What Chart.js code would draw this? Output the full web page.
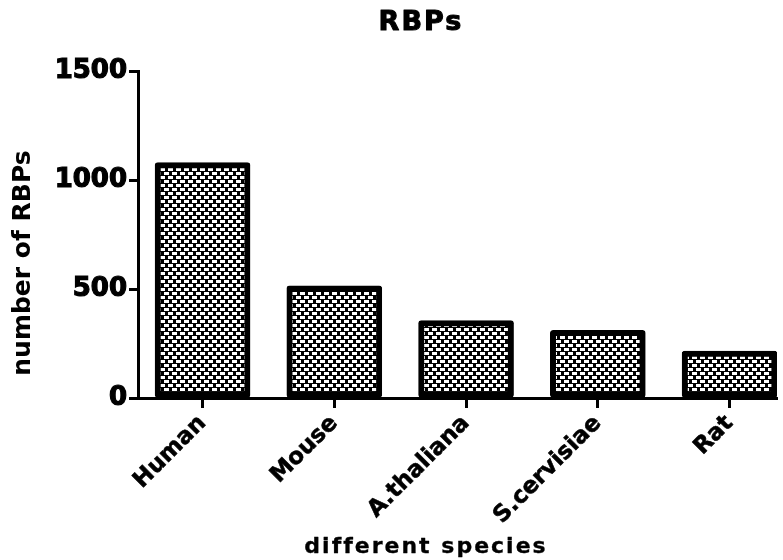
<!DOCTYPE html>
<html>
<head>
<meta charset="utf-8">
<title>RBPs</title>
<script src="https://cdn.jsdelivr.net/npm/chart.js@4.4.1/dist/chart.umd.min.js"></script>
<style>
  html, body { margin: 0; padding: 0; background: #fff; }
  canvas { display: block; }
</style>
</head>
<body>
<canvas id="rbp-chart" width="783" height="560"></canvas>
<script>
const categories = ["Human", "Mouse", "A.thaliana", "S.cervisiae", "Rat"];
const rbpCounts = [1080, 515, 355, 310, 215];
const yTicks = [0, 500, 1000, 1500];
const chartTitle = "RBPs";
const xTitle = "different species";
const yTitle = "number of RBPs";

// checkered fill like the Prism bars
function makePattern() {
  const tile = document.createElement("canvas");
  tile.width = 8;
  tile.height = 8;
  const t = tile.getContext("2d");
  t.fillStyle = "#000";
  t.fillRect(0, 0, 8, 8);
  t.fillStyle = "#fff";
  t.fillRect(0, 0, 5, 3);
  t.fillRect(4, 4, 4, 3);
  t.fillRect(0, 4, 1, 3);
  return t.createPattern(tile, "repeat");
}

// heavy text, drawn fill + thin stroke
function heavyText(ctx, txt, x, y, w) {
  if (w > 0) {
    ctx.lineWidth = w;
    ctx.strokeText(txt, x, y);
  }
  ctx.fillText(txt, x, y);
}

const textPlugin = {
  id: "prismText",
  afterDraw(chart) {
    const ctx = chart.ctx;
    ctx.save();
    ctx.fillStyle = "#000";
    ctx.strokeStyle = "#000";
    ctx.lineJoin = "round";
    ctx.textAlign = "center";
    ctx.textBaseline = "middle";

    ctx.font = 'bold 27px "DejaVu Sans"';
    ctx.letterSpacing = "2px";
    heavyText(ctx, chartTitle, 421, 23, 1);

    ctx.font = 'bold 22px "DejaVu Sans"';
    ctx.letterSpacing = "2px";
    heavyText(ctx, xTitle, 426, 547, 0.3);

    ctx.letterSpacing = "0px";
    ctx.font = 'bold 25px "DejaVu Sans"';
    ctx.translate(23, 263);
    ctx.rotate(-Math.PI / 2);
    ctx.fillText(yTitle, 0, 0);
    ctx.restore();
  }
};

const tickFont = { family: "DejaVu Sans", weight: "bold", size: 26 };
const catFont = { family: "DejaVu Sans", weight: "bold", size: 23 };

new Chart(document.getElementById("rbp-chart").getContext("2d"), {
  type: "bar",
  data: {
    datasets: [{
      data: rbpCounts.map((v, i) => ({ x: i, y: v })),
      backgroundColor: makePattern(),
      borderColor: "#000",
      borderWidth: 6,
      borderSkipped: false,
      borderRadius: 3,
      barThickness: 95
    }]
  },
  options: {
    responsive: false,
    animation: false,
    layout: { padding: { top: 71, right: 6, bottom: 0, left: 0 } },
    plugins: {
      legend: { display: false },
      tooltip: { enabled: false },
      title: { display: false }
    },
    scales: {
      x: {
        type: "linear",
        offset: false,
        min: -0.49,
        max: 4.36,
        afterBuildTicks: s => { s.ticks = categories.map((c, i) => ({ value: i })); },
        afterFit: s => { s.height = 560 - 398; },
        ticks: {
          autoSkip: false,
          minRotation: 45,
          maxRotation: 45,
          padding: 2,
          color: "#000",
          textStrokeColor: "#000",
          textStrokeWidth: 0.6,
          font: catFont,
          callback: v => categories[v]
        },
        grid: { offset: false, drawOnChartArea: false, tickLength: 10, tickWidth: 3, tickColor: "#000", color: "#000" },
        border: { color: "#000", width: 3 }
      },
      y: {
        min: 0,
        max: 1500,
        afterBuildTicks: s => { s.ticks = yTicks.map(v => ({ value: v })); },
        afterFit: s => { s.width = 138; },
        ticks: {
          padding: 2,
          color: "#000",
          textStrokeColor: "#000",
          textStrokeWidth: 1.2,
          font: tickFont,
          callback: v => String(v)
        },
        grid: { drawOnChartArea: false, tickLength: 9, tickWidth: 3, tickColor: "#000", color: "#000" },
        border: { color: "#000", width: 3 }
      }
    }
  },
  plugins: [textPlugin]
});
</script>
</body>
</html>
